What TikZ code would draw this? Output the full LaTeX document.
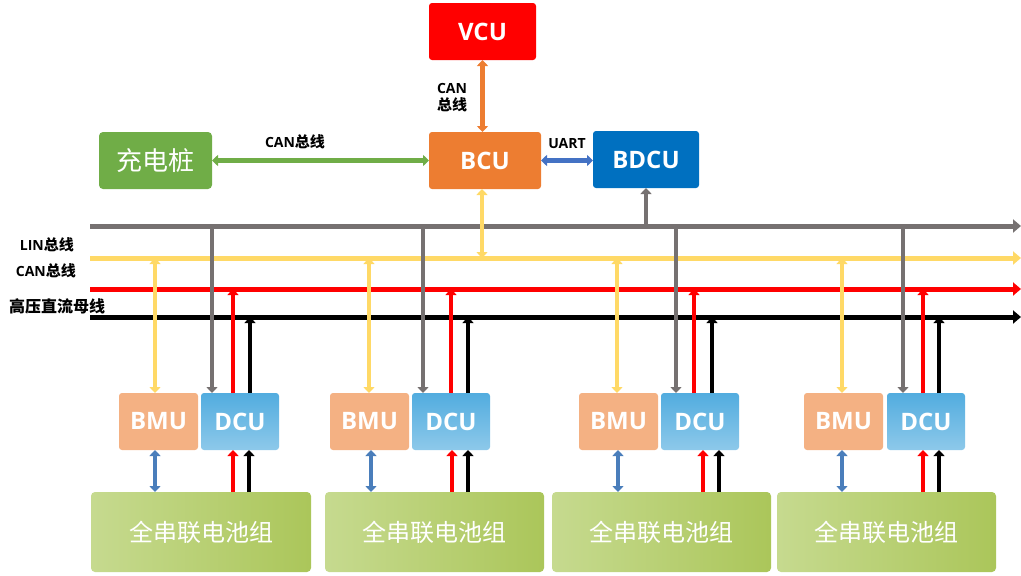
\documentclass[tikz,border=0pt]{standalone}
\usepackage{fontspec}
\usetikzlibrary{arrows.meta}
\newfontfamily\cjkf{Noto Sans CJK SC}
\newfontfamily\latf{Open Sans}
\definecolor{cvcu}{HTML}{FF0000}
\definecolor{cbcu}{HTML}{ED7D31}
\definecolor{cbdcu}{HTML}{0070C0}
\definecolor{ccz}{HTML}{70AD47}
\definecolor{cbmu}{HTML}{F4B183}
\definecolor{cdcut}{HTML}{52ACDF}
\definecolor{cdcub}{HTML}{8DC9EA}
\definecolor{cbatl}{HTML}{C6DA8F}
\definecolor{cbatr}{HTML}{ABC65A}
\definecolor{cyel}{HTML}{FFD966}
\definecolor{cgray}{HTML}{767171}
\definecolor{cred}{HTML}{FF0000}
\definecolor{cuart}{HTML}{4472C4}
\definecolor{cblu}{HTML}{4A7EBB}
\begin{document}
\begin{tikzpicture}[x=1pt,y=-1pt,
  >={Triangle[width=11pt,length=6pt]},
  box/.style={rounded corners=3pt, inner sep=0pt, outer sep=0pt, text=white,
    font=\latf\bfseries\fontsize{24}{28}\selectfont},
  cnbox/.style={rounded corners=4pt, inner sep=0pt, outer sep=0pt, text=white,
    font=\cjkf\fontsize{24}{28}\selectfont},
  lbl/.style={inner sep=0pt, text=black, font=\latf\bfseries\fontsize{14}{16}\selectfont},
  bus/.style={line width=5pt, >={Triangle[width=13pt,length=8pt]}},
  vline/.style={line width=4.5pt},
  modbox/.style={anchor=north west, minimum width=#1, minimum height=57pt}
]
\useasboundingbox (0,0) rectangle (1021,576);

% top nodes
\node[box, fill=cvcu, minimum width=107pt, minimum height=57pt] (vcu) at (482.5,31.5) {VCU};
\node[box, fill=cbcu, minimum width=112pt, minimum height=57pt] (bcu) at (485,160.5) {BCU};
\node[box, fill=cbdcu, minimum width=106pt, minimum height=57pt] (bdcu) at (646,159.5) {BDCU};
\node[cnbox, fill=ccz, minimum width=113pt, minimum height=57pt, font=\cjkf\fontsize{26}{30}\selectfont] (cz) at (155.5,160.5) {充电桩};

% labels
\node[lbl] (lvcan1) at (452,88) {CAN};
\node[lbl, font=\cjkf\bfseries\fontsize{15}{17}\selectfont] (lvcan2) at (452,105) {总线};
\node[lbl] (lcz) at (295,142) {CAN{\cjkf\bfseries\fontsize{15}{17}\selectfont 总线}};
\node[lbl] (luart) at (567,144) {UART};
\node[lbl, anchor=east] (llin) at (74,245) {LIN{\cjkf\bfseries\fontsize{15}{17}\selectfont 总线}};
\node[lbl, anchor=east] (lcan) at (76,271) {CAN{\cjkf\bfseries\fontsize{15}{17}\selectfont 总线}};
\node[lbl, anchor=west, font=\cjkf\bfseries\fontsize{16}{18}\selectfont] (lhv) at (9,306) {高压直流母线};

% buses
\coordinate (gL) at (90,226); \coordinate (gR) at (1021,226);
\coordinate (yL) at (90,258); \coordinate (yR) at (1021,258);
\coordinate (rL) at (90,289); \coordinate (rR) at (1021,289);
\coordinate (kL) at (90,317); \coordinate (kR) at (1021,317);
\draw[bus, cgray, ->] (gL) -- (gR);
\draw[bus, cyel, ->] (yL) -- (yR);
\draw[bus, cred, ->] (rL) -- (rR);
\draw[bus, black, ->] (kL) -- (kR);

% top connectors
\draw[vline, cbcu, <->] (vcu.south) -- (vcu.south |- bcu.north);
\draw[vline, ccz, <->] (cz.east) -- (cz.east -| bcu.west);
\draw[vline, cuart, <->] (bcu.east) -- (bcu.east -| bdcu.west);
\coordinate (bcuy) at (482,258);
\draw[vline, cyel, <->] (bcuy |- bcu.south) -- (bcuy);
\coordinate (bdg) at (646,226);
\draw[vline, cgray, ->] (bdg) -- (bdg |- bdcu.south);

% modules
\foreach \i/\bx/\dx/\tx/\tw/\yx/\gx/\rx/\kx/\rl/\kl/\ux in {
  1/119/201/91/220/155/212/233/250/233/249/155,
  2/330/412/325/219/369/423/451/468/452/468/371,
  3/579/661/552/219/617/676/694/712/703/719/618,
  4/804/887/777/219/842/903/923/939/923/939/842}{
  \node[box, fill=cbmu, modbox=79pt] (bmu\i) at (\bx,393) {BMU};
  \node[box, top color=cdcut, bottom color=cdcub, modbox=78pt] (dcu\i) at (\dx,393) {DCU};
  \node[cnbox, left color=cbatl, right color=cbatr, anchor=north west,
        minimum width=\tw pt, minimum height=80pt] (bat\i) at (\tx,492) {全串联电池组};
  \coordinate (y\i) at (\yx,258);
  \coordinate (g\i) at (\gx,226);
  \coordinate (r\i) at (\rx,289);
  \coordinate (k\i) at (\kx,317);
  \coordinate (rb\i) at (\rl,492);
  \coordinate (kb\i) at (\kl,492);
  \coordinate (ub\i) at (\ux,492);
  \draw[vline, cyel, line width=3.5pt, <->] (y\i) -- (y\i |- bmu\i.north);
  \draw[vline, cgray, ->] (g\i) -- (g\i |- dcu\i.north);
  \draw[vline, cred, ->] (r\i |- dcu\i.north) -- (r\i);
  \draw[vline, black, ->] (k\i |- dcu\i.north) -- (k\i);
  \draw[line width=3.5pt, cblu, <->] (ub\i |- bmu\i.south) -- (ub\i);
  \draw[vline, cred, ->] (rb\i) -- (rb\i |- dcu\i.south);
  \draw[vline, black, ->] (kb\i) -- (kb\i |- dcu\i.south);
}
\end{tikzpicture}
\end{document}
